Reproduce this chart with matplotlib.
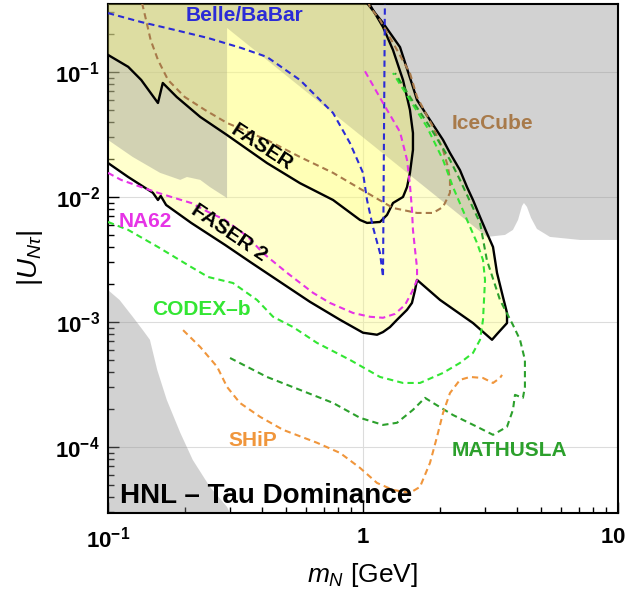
import matplotlib
matplotlib.use("Agg")
import matplotlib.pyplot as plt
import matplotlib.transforms as mtransforms
import numpy as np

plt.rcParams['font.family'] = ['Liberation Sans', 'DejaVu Sans']
plt.rcParams['mathtext.fontset'] = 'custom'
plt.rcParams['mathtext.rm'] = 'Liberation Sans'
plt.rcParams['mathtext.it'] = 'Liberation Sans:italic'
plt.rcParams['mathtext.bf'] = 'Liberation Sans:bold'

# ---- data: (m_N [GeV], |U|) ----
faser2_m = [0.1, 0.12, 0.150, 0.157, 0.161, 0.169, 0.212, 0.288, 0.361, 0.473, 0.619, 0.813,
            1.0, 1.135, 1.198, 1.276, 1.359, 1.488, 1.556, 1.60, 1.629, 2.005, 2.70, 3.206,
            3.354, 3.671, 3.671, 3.54, 3.354, 3.235, 3.06, 2.877, 2.70, 2.558, 2.40, 2.193,
            2.06, 1.831, 1.629, 1.57, 1.397, 1.198, 1.037, 1.0, 0.1]
faser2_u = [0.0187, 0.01445, 0.0108, 0.00946, 0.0102, 0.00863, 0.0062, 0.00413, 0.00302,
            0.00209, 0.00145, 0.00104, 0.00082, 0.00079, 0.00083, 0.00091, 0.00104, 0.00125,
            0.00142, 0.0018, 0.00217, 0.0015, 0.00098, 0.00072, 0.0008, 0.00098, 0.00118,
            0.00158, 0.00247, 0.00398, 0.00515, 0.00692, 0.00946, 0.0120, 0.0164, 0.0225,
            0.0286, 0.0413, 0.0597, 0.0759, 0.158, 0.247, 0.356, 0.6, 0.6]

faser_m = [0.1, 0.12, 0.135, 0.157, 0.164, 0.186, 0.230, 0.293, 0.420, 0.566, 0.763, 0.973,
           1.037, 1.166, 1.242, 1.311, 1.435, 1.488, 1.528, 1.57, 1.57, 1.528, 1.435, 1.311,
           1.198, 1.065, 1.0, 0.1]
faser_u = [0.137, 0.110, 0.0863, 0.0565, 0.0817, 0.0631, 0.0437, 0.0313, 0.0187, 0.0129,
           0.00946, 0.00655, 0.0062, 0.00631, 0.00718, 0.00895, 0.0100, 0.0120, 0.0156,
           0.0238, 0.0325, 0.0497, 0.0863, 0.150, 0.229, 0.344, 0.6, 0.6]

# excluded (grey) regions
grey_m = [0.1, 10, 10, 7.1, 5.41, 4.81, 4.56, 4.396, 4.277, 4.203, 4.055, 3.873, 3.606, 3.06,
          0.293, 0.293, 0.251, 0.230, 0.204, 0.192, 0.160, 0.125, 0.1]
grey_u = [0.6, 0.6, 0.00453, 0.00453, 0.00479, 0.00555, 0.0068, 0.00832, 0.00895, 0.00847,
          0.00655, 0.00545, 0.00497, 0.00479, 0.225, 0.0098, 0.0120, 0.0137, 0.01445, 0.0137,
          0.0156, 0.0209, 0.0286]
grey2_m = [0.1, 0.111, 0.125, 0.137, 0.146, 0.156, 0.170, 0.192, 0.215, 0.251, 0.293, 0.33, 0.1]
grey2_u = [0.0018, 0.0015, 0.0011, 0.00086, 0.00072, 0.000413, 0.000238, 0.00013, 7.87e-5,
           4.79e-5, 3.31e-5, 2e-5, 2e-5]

belle_m = [0.1, 0.135, 0.183, 0.247, 0.332, 0.420, 0.566, 0.763, 0.889, 1.0, 1.037, 1.094,
           1.166, 1.198, 1.219]
belle_u = [0.296, 0.251, 0.217, 0.187, 0.156, 0.132, 0.0863, 0.047, 0.027, 0.0156, 0.00946,
           0.00575, 0.00356, 0.00229, 0.4]

icecube_m = [0.136, 0.141, 0.147, 0.157, 0.172, 0.200, 0.240, 0.293, 0.420, 0.566, 0.763,
             1.037, 1.311, 1.629, 1.882, 2.06, 2.193, 2.193, 2.153, 2.06, 1.882, 1.629, 1.528,
             1.311, 1.166, 1.065, 1.03]
icecube_u = [0.356, 0.261, 0.180, 0.125, 0.0863, 0.0631, 0.0497, 0.0391, 0.0286, 0.0209,
             0.0156, 0.0108, 0.00817, 0.00745, 0.00745, 0.00832, 0.0108, 0.0137, 0.0174,
             0.0238, 0.0363, 0.0631, 0.098, 0.171, 0.261, 0.331, 0.4]

na62_m = [0.1, 0.1125, 0.135, 0.157, 0.183, 0.212, 0.247, 0.288, 0.354, 0.405, 0.504, 0.637,
          0.742, 0.914, 1.065, 1.198, 1.335, 1.462, 1.556, 1.629, 1.629, 1.60, 1.57, 1.556,
          1.528, 1.488, 1.397, 1.198, 1.0]
na62_u = [0.0156, 0.0137, 0.0120, 0.0108, 0.0098, 0.00895, 0.00759, 0.00655, 0.00479,
          0.00356, 0.00247, 0.00171, 0.00142, 0.00118, 0.0011, 0.00108, 0.00116, 0.00137,
          0.00174, 0.00217, 0.0027, 0.00377, 0.00545, 0.00787, 0.0125, 0.0198, 0.0331,
          0.0565, 0.108]

codex_m = [0.1, 0.12, 0.157, 0.212, 0.247, 0.309, 0.384, 0.444, 0.532, 0.660, 0.889, 1.166,
           1.435, 1.673, 2.06, 2.40, 2.70, 2.877, 2.955, 3.01, 2.955, 2.80, 2.558, 2.254, 2.06,
           1.782, 1.528, 1.311]
codex_u = [0.00631, 0.00545, 0.00398, 0.00275, 0.00229, 0.00205, 0.0015, 0.0011, 0.00091,
           0.00068, 0.000497, 0.000363, 0.000325, 0.000325, 0.000391, 0.00047, 0.000565,
           0.00072, 0.00104, 0.00217, 0.00313, 0.00429, 0.00655, 0.0120, 0.0198, 0.0363,
           0.0597, 0.098]

mathusla_m = [0.301, 0.420, 0.566, 0.763, 0.973, 1.198, 1.359, 1.57, 1.75, 1.882, 2.254, 2.80,
              3.235, 3.671, 3.873, 3.945, 4.238, 4.315, 4.315, 4.128, 3.873, 3.445, 3.06,
              2.877, 2.40, 2.193, 1.831, 1.556, 1.335]
mathusla_u = [0.000515, 0.000363, 0.000286, 0.000225, 0.000171, 0.00015, 0.000156, 0.000198,
              0.000247, 0.000225, 0.00018, 0.000145, 0.000125, 0.000145, 0.000198, 0.000261,
              0.000247, 0.000302, 0.000497, 0.00072, 0.000946, 0.0015, 0.00313, 0.0062,
              0.0137, 0.0198, 0.0363, 0.0597, 0.098]

ship_m = [0.197, 0.230, 0.268, 0.293, 0.329, 0.395, 0.486, 0.660, 0.813, 0.973, 1.135, 1.311,
          1.528, 1.673, 1.831, 1.95, 2.06, 2.193, 2.40, 2.629, 2.955, 3.235, 3.445, 3.51]
ship_u = [0.00086, 0.00063, 0.000437, 0.000302, 0.000225, 0.000174, 0.000137, 0.000108,
          8.95e-5, 6.8e-5, 5.15e-5, 4.53e-5, 4.29e-5, 4.79e-5, 7.45e-5, 0.00012, 0.000187,
          0.00027, 0.000344, 0.000363, 0.000356, 0.000325, 0.000356, 0.000377]

fig = plt.figure(figsize=(6.29, 5.91), dpi=100)
ax = fig.add_axes([108/629, 1-513/591, 510/629, 509/591])
ax.set_xscale('log')
ax.set_yscale('log')
ax.set_xlim(0.1, 10)
ax.set_ylim(2.96e-5, 0.35)

ax.grid(which='major', color='#dcdcdc', lw=0.8)
ax.set_axisbelow(True)

# yellow FASER 2 region, grey excluded regions on top, then FASER region
ax.fill(faser2_m, faser2_u, color=(1, 1, 0.5), alpha=0.39, lw=0, zorder=1)
ax.fill(grey_m, grey_u, color=(0.545, 0.545, 0.545), alpha=0.38, lw=0, zorder=2)
ax.fill(grey2_m, grey2_u, color=(0.545, 0.545, 0.545), alpha=0.38, lw=0, zorder=2)
ax.fill(faser_m, faser_u, color=(1, 1, 0.45), alpha=0.25, lw=0, zorder=3)

ax.plot(faser2_m, faser2_u, color='black', lw=1.7, zorder=4)
ax.plot(faser_m, faser_u, color='black', lw=1.7, zorder=4)

dash = (3, 2)
ax.plot(icecube_m, icecube_u, color='#a87a4a', lw=1.5, dashes=dash, zorder=5)
ax.plot(belle_m, belle_u, color='#2b2bd6', lw=1.5, dashes=dash, zorder=5)
ax.plot(na62_m, na62_u, color='#e633e6', lw=1.5, dashes=dash, zorder=5)
ax.plot(codex_m, codex_u, color='#33e633', lw=1.5, dashes=dash, zorder=5)
ax.plot(mathusla_m, mathusla_u, color='#2ca02c', lw=1.5, dashes=dash, zorder=5)
ax.plot(ship_m, ship_u, color='#f0963c', lw=1.5, dashes=dash, zorder=5)

kw = dict(transform=ax.transAxes, fontweight='bold', fontsize=15, ha='center', va='center', zorder=6)
ax.text(0.267, 0.978, 'Belle/BaBar', color='#2b2bd6', **kw)
ax.text(0.753, 0.766, 'IceCube', color='#a87a4a', **kw)
ax.text(0.302, 0.719, 'FASER', color='black', rotation=-33, rotation_mode='anchor', **kw)
ax.text(0.237, 0.55, 'FASER 2', color='black', rotation=-34, rotation_mode='anchor', **kw)
ax.text(0.0725, 0.572, 'NA62', color='#e633e6', **kw)
ax.text(0.184, 0.399, 'CODEX\u2013b', color='#33e633', **kw)
ax.text(0.284, 0.143, 'SHiP', color='#f0963c', **kw)
ax.text(0.788, 0.122, 'MATHUSLA', color='#2ca02c', **kw)
ax.text(0.0235, 0.033, 'HNL \u2013 Tau Dominance', transform=ax.transAxes, fontsize=20,
        fontweight='bold', ha='left', va='center', zorder=6)

ax.set_xticks([0.1, 1, 10])
ax.set_xticklabels([r'$\mathbf{10^{-1}}$', r'$\mathbf{1}$', r'$\mathbf{10}$'])
ax.set_yticks([1e-4, 1e-3, 1e-2, 1e-1])
ax.set_yticklabels([r'$\mathbf{10^{-4}}$', r'$\mathbf{10^{-3}}$', r'$\mathbf{10^{-2}}$',
                    r'$\mathbf{10^{-1}}$'])
ax.tick_params(which='both', direction='in', labelsize=16)
ax.tick_params(which='major', length=8, width=1)
ax.tick_params(which='minor', length=4, width=1)
ax.tick_params(axis='x', pad=10)
ax.tick_params(axis='y', pad=6)
for s in ax.spines.values():
    s.set_linewidth(1.5)

# nudge the right-most x label so it stays inside the figure
last = ax.get_xticklabels()[-1]
last.set_transform(last.get_transform() + mtransforms.ScaledTranslation(-5/100, 0, fig.dpi_scale_trans))

fig.text(362/629, 1-575/591, r'$m_N$ [GeV]', fontsize=19, ha='center', va='center')
fig.text(30/629, 1-258/591, r'$|U_{N\tau}|$', fontsize=20, ha='center', va='center', rotation=90)

fig.savefig('out.png', dpi=100)
